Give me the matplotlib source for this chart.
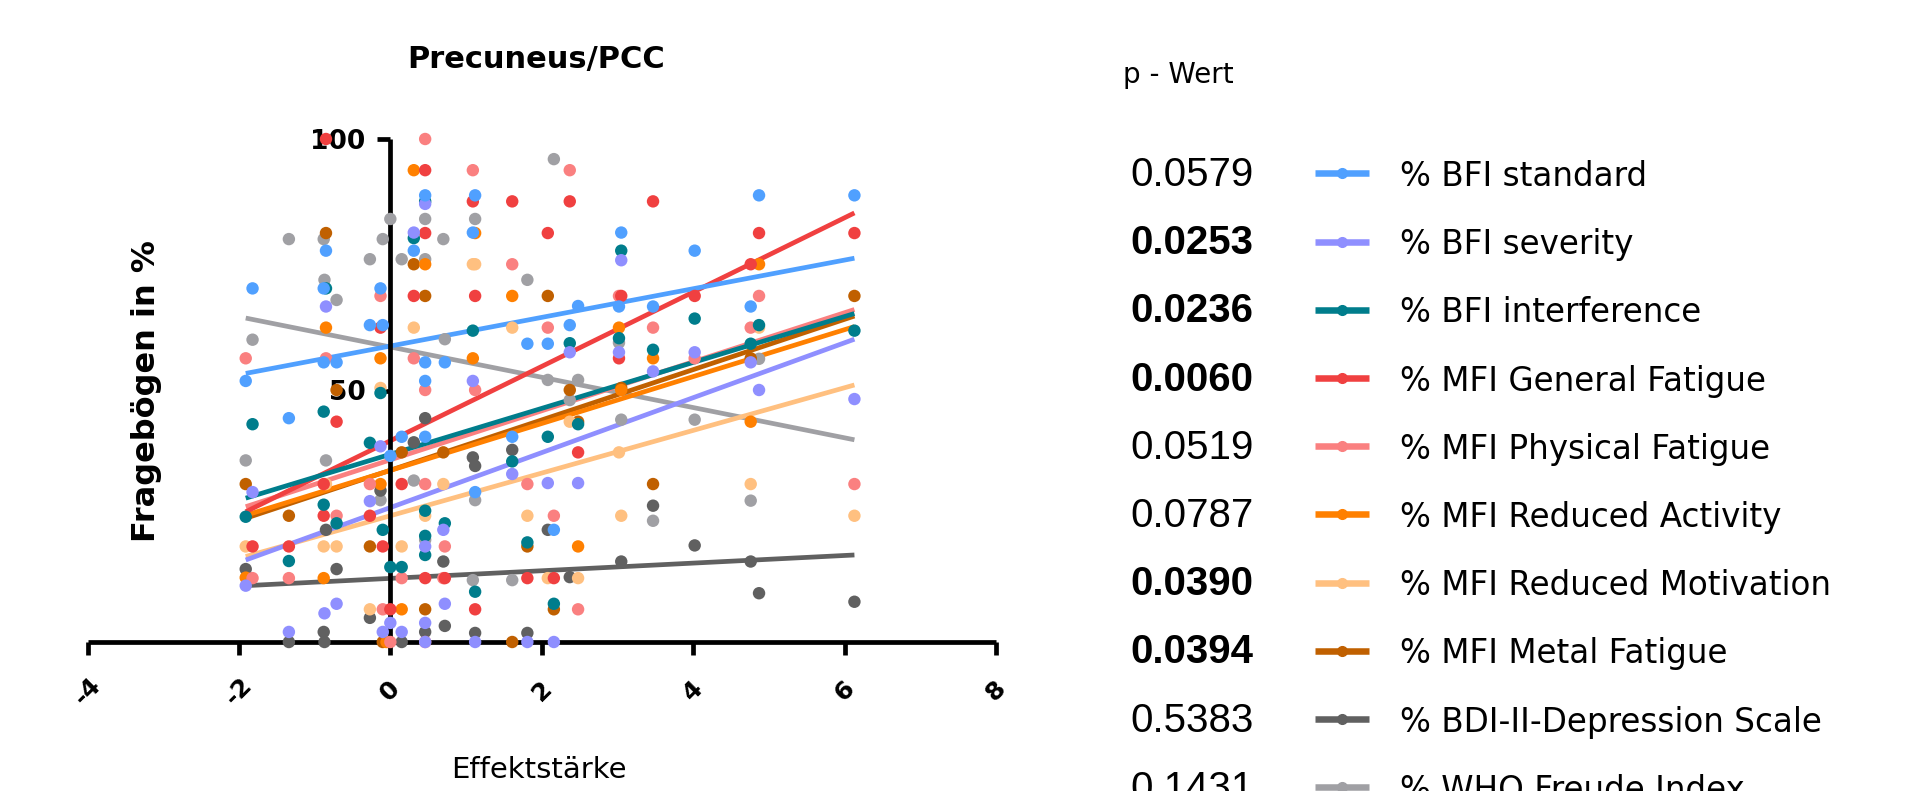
import numpy as np
import matplotlib
matplotlib.use("Agg")
import matplotlib.pyplot as plt

# ------------------------------------------------------------------ data
title = "Precuneus/PCC"
x_label = "Effektstärke"
y_label = "Fragebögen in %"
p_header = "p - Wert"

x_ticks = [-4, -2, 0, 2, 4, 6, 8]
x_tick_labels = ["-4", "-2", "0", "2", "4", "6", "8"]
y_ticks = [50, 100]
y_tick_labels = ["50", "100"]

series_names = ["% BFI standard", "% BFI severity", "% BFI interference",
                "% MFI General Fatigue", "% MFI Physical Fatigue",
                "% MFI Reduced Activity", "% MFI Reduced Motivation",
                "% MFI Metal Fatigue", "% BDI-II-Depression Scale",
                "% WHO Freude Index"]
p_values = ["0.0579", "0.0253", "0.0236", "0.0060", "0.0519",
            "0.0787", "0.0390", "0.0394", "0.5383", "0.1431"]
p_bold = [False, True, True, True, False, False, True, True, False, False]
colors = ["#50A0FF", "#8F8FFF", "#007D8C", "#F04040", "#FA8080",
          "#FF8000", "#FFC080", "#C06000", "#606060", "#A0A0A4"]

bfi_standard_x = [-1.91, -1.82, -1.34, -0.88, -0.88, -0.85, -0.71, -0.27, -0.13, -0.10,
                  0.00, 0.15, 0.31, 0.46, 0.46, 0.46, 0.46, 0.72, 1.09, 1.12,
                  1.12, 1.61, 1.81, 2.08, 2.16, 2.37, 2.48, 3.02, 3.05, 3.47,
                  4.02, 4.76, 4.87, 6.13]
bfi_standard_y = [51.9, 70.3, 44.5, 70.3, 55.6, 77.8, 55.6, 63.0, 70.3, 63.0,
                  37.0, 40.8, 77.8, 88.8, 55.6, 51.9, 40.8, 55.6, 81.4, 88.8,
                  29.8, 40.8, 59.3, 59.3, 22.3, 63.0, 66.8, 66.7, 81.4, 66.7,
                  77.8, 66.7, 88.8, 88.8]

bfi_severity_x = [-1.91, -1.82, -1.34, -0.87, -0.85, -0.71, -0.27, -0.13, -0.10, 0.00,
                  0.15, 0.31, 0.46, 0.46, 0.46, 0.46, 0.70, 0.72, 1.09, 1.12,
                  1.61, 1.81, 2.08, 2.16, 2.37, 2.48, 3.02, 3.05, 3.47, 4.02,
                  4.76, 4.87, 6.13]
bfi_severity_y = [11.2, 29.8, 2.0, 5.7, 66.7, 7.6, 28.0, 38.9, 2.0, 3.8,
                  2.0, 81.4, 87.1, 19.0, 3.8, 0.0, 22.3, 7.6, 51.9, 0.0,
                  33.4, 0.0, 31.6, 0.0, 57.6, 31.6, 57.6, 75.9, 53.8, 57.6,
                  55.6, 50.1, 48.3]

bfi_interference_x = [-1.91, -1.82, -1.34, -0.88, -0.88, -0.85, -0.71, -0.27, -0.13, -0.10,
                      0.00, 0.15, 0.31, 0.46, 0.46, 0.46, 0.46, 0.72, 1.09, 1.12,
                      1.61, 1.81, 2.08, 2.16, 2.37, 2.48, 3.02, 3.05, 3.47, 4.02,
                      4.76, 4.87, 6.13]
bfi_interference_y = [24.9, 43.3, 16.1, 45.8, 27.3, 70.3, 23.6, 39.6, 49.5, 22.3,
                      14.9, 14.9, 80.3, 87.6, 26.1, 21.1, 17.3, 23.6, 61.9, 10.0,
                      35.9, 19.8, 40.8, 7.6, 59.4, 43.3, 60.4, 77.8, 58.1, 64.3,
                      59.3, 63.0, 61.9]

mfi_general_x = [-1.82, -1.34, -0.88, -0.88, -0.85, -0.71, -0.27, -0.13, -0.10, 0.00,
                 0.15, 0.31, 0.46, 0.46, 0.46, 0.72, 1.09, 1.12, 1.12, 1.61,
                 1.81, 2.08, 2.16, 2.37, 2.48, 3.02, 3.05, 3.47, 4.02, 4.76,
                 4.87, 6.13]
mfi_general_y = [19.0, 19.0, 31.4, 25.1, 100.0, 43.8, 25.1, 62.5, 19.0, 6.5,
                 31.4, 68.8, 93.8, 81.3, 12.7, 12.7, 87.6, 68.8, 6.5, 87.6,
                 12.7, 81.3, 12.7, 87.6, 37.7, 56.4, 68.8, 87.6, 68.8, 75.1,
                 81.3, 81.3]

mfi_physical_x = [-1.91, -1.82, -1.34, -0.85, -0.71, -0.27, -0.13, -0.10, 0.00, 0.15,
                  0.31, 0.46, 0.46, 0.46, 0.46, 0.70, 0.72, 1.09, 1.12, 1.61,
                  1.81, 2.08, 2.16, 2.37, 2.48, 3.02, 3.47, 4.02, 4.76, 4.87,
                  6.13]
mfi_physical_y = [56.4, 12.7, 12.7, 56.4, 25.1, 31.4, 68.8, 6.5, 0.0, 12.7,
                  56.4, 100.0, 50.1, 31.4, 0.0, 12.7, 19.0, 93.8, 50.1, 75.1,
                  31.4, 62.5, 25.1, 93.8, 6.5, 68.8, 62.5, 56.4, 62.5, 68.8,
                  31.4]

mfi_activity_x = [-1.91, -0.88, -0.85, -0.13, -0.13, -0.05, 0.15, 0.31, 0.46, 1.09,
                  1.12, 1.61, 2.48, 3.02, 3.05, 3.47, 4.76, 4.87]
mfi_activity_y = [12.8, 12.7, 62.5, 56.4, 31.4, 0.0, 6.5, 93.8, 75.1, 56.4,
                  81.3, 68.8, 19.0, 62.5, 50.1, 56.4, 43.8, 75.1]

mfi_motivation_x = [-1.91, -0.88, -0.85, -0.71, -0.27, -0.13, 0.15, 0.31, 0.46, 0.70,
                    1.09, 1.12, 1.61, 1.81, 2.08, 2.37, 2.48, 3.02, 3.05, 4.76,
                    4.87, 6.13]
mfi_motivation_y = [19.0, 19.0, 31.4, 19.0, 6.5, 50.5, 19.0, 62.5, 25.1, 31.4,
                    75.1, 75.1, 62.5, 25.1, 12.7, 43.8, 12.7, 37.7, 25.1, 31.4,
                    62.5, 25.1]

mfi_mental_x = [-1.91, -1.34, -0.85, -0.71, -0.27, -0.10, 0.15, 0.31, 0.46, 0.46,
                0.70, 1.61, 1.81, 2.08, 2.16, 2.37, 2.48, 3.05, 3.47, 4.76,
                6.13]
mfi_mental_y = [31.4, 25.1, 81.3, 50.1, 19.0, 0.0, 37.7, 75.1, 68.8, 6.5,
                37.7, 0.0, 19.0, 68.8, 6.5, 50.1, 43.8, 50.5, 31.4, 56.4,
                68.8]

bdi_x = [-1.91, -1.34, -0.88, -0.87, -0.85, -0.71, -0.27, -0.13, 0.15, 0.31,
         0.46, 0.46, 0.70, 0.72, 1.09, 1.12, 1.12, 1.61, 1.81, 2.08,
         2.37, 3.05, 3.47, 4.02, 4.76, 4.87, 6.13]
bdi_y = [14.5, 0.0, 2.0, 0.0, 22.3, 14.5, 4.8, 30.1, 0.0, 39.7,
         44.5, 2.0, 16.0, 3.2, 36.7, 35.0, 1.8, 38.2, 1.8, 22.3,
         12.9, 16.0, 27.1, 19.2, 16.0, 9.7, 8.0]

who_x = [-1.91, -1.82, -1.34, -0.88, -0.87, -0.85, -0.71, -0.27, -0.13, -0.10,
         0.00, 0.15, 0.31, 0.46, 0.46, 0.46, 0.70, 0.72, 1.09, 1.12,
         1.12, 1.61, 1.81, 2.08, 2.16, 2.37, 2.48, 3.02, 3.05, 3.47,
         4.02, 4.76, 4.87]
who_y = [36.1, 60.1, 80.1, 80.1, 72.0, 36.1, 68.0, 76.1, 28.2, 80.1,
         84.1, 76.1, 32.1, 84.1, 76.1, 20.3, 80.1, 60.2, 12.3, 84.1,
         28.2, 12.3, 72.0, 52.1, 96.0, 48.1, 52.1, 59.5, 44.2, 24.1,
         44.2, 28.1, 56.3]

# regression line values read at the left / right end of the data range
fit_start = [53.4, 16.3, 28.6, 25.9, 26.9, 25.2, 17.0, 24.6, 11.2, 64.4]
fit_end = [76.3, 60.2, 65.3, 85.3, 66.1, 62.7, 51.1, 64.8, 17.3, 40.2]

series_x = [bfi_standard_x, bfi_severity_x, bfi_interference_x, mfi_general_x,
            mfi_physical_x, mfi_activity_x, mfi_motivation_x, mfi_mental_x,
            bdi_x, who_x]
series_y = [bfi_standard_y, bfi_severity_y, bfi_interference_y, mfi_general_y,
            mfi_physical_y, mfi_activity_y, mfi_motivation_y, mfi_mental_y,
            bdi_y, who_y]

# ------------------------------------------------------------------ figure
plt.rcParams["font.family"] = ["DejaVu Sans"]
W, H = 1905, 791
fig = plt.figure(figsize=(W / 100, H / 100), dpi=100)


def frac_rect(x0, y0, x1, y1):
    return [x0 / W, 1 - y1 / H, (x1 - x0) / W, (y1 - y0) / H]


ax = fig.add_axes(frac_rect(87.5, 139, 996, 642))
ax.set_xlim(-4, 8)
ax.set_ylim(0, 100)
ax.patch.set_visible(False)
ax.spines["left"].set_position(("data", 0))
for s in ["top", "right"]:
    ax.spines[s].set_visible(False)
for s in ["left", "bottom"]:
    ax.spines[s].set_linewidth(3.4)
    ax.spines[s].set_capstyle("butt")

ax.set_xticks(x_ticks)
ax.set_xticklabels(x_tick_labels, rotation=45, ha="center", va="center",
                   rotation_mode="anchor", fontweight="bold", fontsize=18)
ax.set_yticks(y_ticks)
ax.set_yticklabels(y_tick_labels, fontweight="bold", fontsize=19)
ax.tick_params(axis="both", direction="out", length=9.4, width=3.4)
ax.tick_params(axis="x", pad=26)
ax.tick_params(axis="y", pad=8.5)

gx_min = min(min(v) for v in series_x)
gx_max = max(max(v) for v in series_x)
for i in reversed(range(len(series_names))):
    ax.plot([gx_min, gx_max], [fit_start[i], fit_end[i]], color=colors[i],
            lw=3.4, zorder=2, solid_capstyle="butt")
for i in reversed(range(len(series_names))):
    ax.scatter(series_x[i], series_y[i], s=80, color=colors[i],
               edgecolors="none", zorder=3, clip_on=False)

fig.text(536 / W, 1 - 68.3 / H, title, ha="center", va="baseline",
         fontsize=22, fontweight="bold")
fig.text(155 / W, 1 - 391 / H, y_label, rotation=90, rotation_mode="anchor",
         ha="center", va="baseline", fontsize=23, fontweight="bold")
fig.text(539 / W, 1 - 778 / H, x_label, ha="center", va="baseline", fontsize=21)

# ------------------------------------------------------------------ p-value legend
lax = fig.add_axes([0, 0, 1, 1])
lax.set_xlim(0, W)
lax.set_ylim(H, 0)
lax.axis("off")
lax.patch.set_visible(False)

lax.text(1123, 83, p_header, fontsize=20, ha="left", va="baseline")
row0, row_step = 186.0, 68.2
for i, name in enumerate(series_names):
    yb = row0 + row_step * i
    lax.text(1130.7, yb, p_values[i], family=["Liberation Sans", "DejaVu Sans"],
             fontsize=29, fontweight="bold" if p_bold[i] else "normal",
             ha="left", va="baseline", clip_on=False)
    lax.plot([1315, 1342, 1369], [yb - 12.7] * 3, color=colors[i], lw=4.7,
             marker="o", markevery=[1], ms=7, solid_capstyle="butt", clip_on=False)
    lax.text(1400, yb, name, fontsize=23.5, ha="left", va="baseline", clip_on=False)

fig.savefig("out.png", dpi=100)
